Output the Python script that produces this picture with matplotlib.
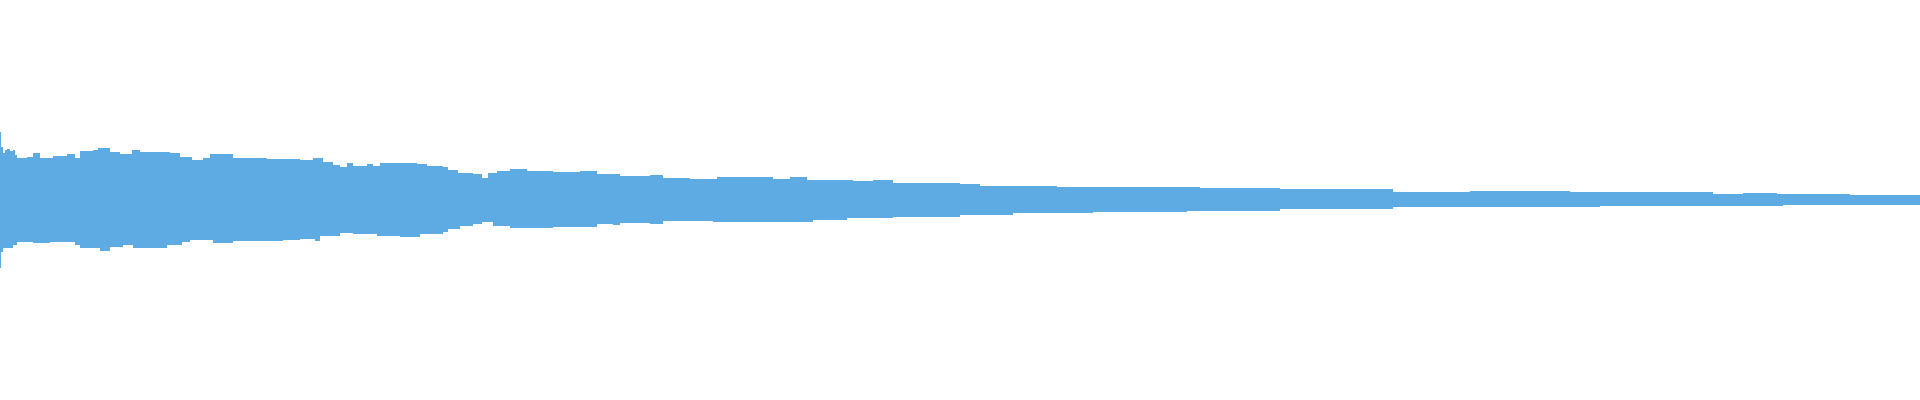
import matplotlib.pyplot as plt

# waveform envelope
# x is the position in the clip (0..1920 screen columns), amplitude is -1..1
top_x = [0, 1, 3.3, 5, 7.3, 10, 12.7, 15, 16.7, 26.7, 33.3, 40, 53.3, 66.7, 75,
         80, 93.3, 98.3, 110, 120, 131.7, 140, 156.7, 170, 180, 191.7, 203.3, 210,
         233.3, 266.7, 300, 313.3, 323, 333, 340, 347, 353, 367, 373, 380, 400,
         417, 427, 443, 448, 458, 473, 482, 488, 497, 510, 527, 553, 580, 597,
         613, 620, 640, 650, 663, 690, 717, 747, 773, 790, 807, 853, 873, 893,
         940, 960, 980, 1057, 1123, 1200, 1280, 1393, 1470, 1570, 1600, 1713,
         1743, 1777, 1850, 1920]
top_amp = [0.34, 0.267, 0.233, 0.25, 0.255, 0.245, 0.25, 0.225, 0.208, 0.217,
           0.233, 0.212, 0.222, 0.228, 0.208, 0.245, 0.248, 0.258, 0.242, 0.228,
           0.25, 0.242, 0.238, 0.233, 0.217, 0.2, 0.212, 0.228, 0.208, 0.205,
           0.2, 0.208, 0.188, 0.175, 0.167, 0.183, 0.172, 0.182, 0.17, 0.183,
           0.187, 0.178, 0.168, 0.163, 0.15, 0.133, 0.128, 0.112, 0.133, 0.145,
           0.153, 0.147, 0.142, 0.145, 0.128, 0.132, 0.12, 0.118, 0.125, 0.108,
           0.103, 0.113, 0.115, 0.105, 0.115, 0.1, 0.097, 0.1, 0.083, 0.083,
           0.078, 0.07, 0.067, 0.063, 0.058, 0.053, 0.042, 0.047, 0.042, 0.038,
           0.03, 0.035, 0.032, 0.027, 0.03]

bot_x = [0, 1, 3.3, 13.3, 16.7, 26.7, 33.3, 50, 66.7, 75, 80, 100, 110, 123.3,
         133.3, 150, 166.7, 181.7, 190, 213.3, 233.3, 283.3, 300, 315, 320, 340,
         353, 377, 400, 420, 443, 448, 460, 473, 482, 493, 510, 527, 553, 580,
         597, 613, 620, 640, 650, 663, 707, 713, 747, 797, 813, 847, 893, 960,
         1013, 1093, 1147, 1187, 1280, 1393, 1600, 1673, 1783, 1920]
bot_amp = [-0.338, -0.258, -0.242, -0.225, -0.212, -0.208, -0.217, -0.208, -0.212,
           -0.225, -0.238, -0.253, -0.233, -0.225, -0.238, -0.238, -0.225, -0.212,
           -0.2, -0.217, -0.205, -0.2, -0.195, -0.205, -0.18, -0.167, -0.172,
           -0.178, -0.183, -0.172, -0.162, -0.145, -0.13, -0.122, -0.108, -0.128,
           -0.142, -0.142, -0.133, -0.133, -0.122, -0.125, -0.117, -0.115, -0.118,
           -0.105, -0.105, -0.108, -0.108, -0.108, -0.098, -0.092, -0.083, -0.075,
           -0.067, -0.062, -0.062, -0.055, -0.047, -0.037, -0.03, -0.03, -0.027,
           -0.025]

wave_color = '#5DABE2'

fig = plt.figure(figsize=(19.2, 4.0), dpi=100)
ax = fig.add_axes([0, 0, 1, 1])
# upper half and lower half of the wave, stepped like the peak view
ax.fill_between(top_x, 0, top_amp, step='post', color=wave_color, linewidth=0)
ax.fill_between(bot_x, bot_amp, 0, step='post', color=wave_color, linewidth=0)
ax.set_xlim(0, 1920)
ax.set_ylim(-1, 1)
ax.axis('off')

fig.savefig('out.png', dpi=100, facecolor='white')
